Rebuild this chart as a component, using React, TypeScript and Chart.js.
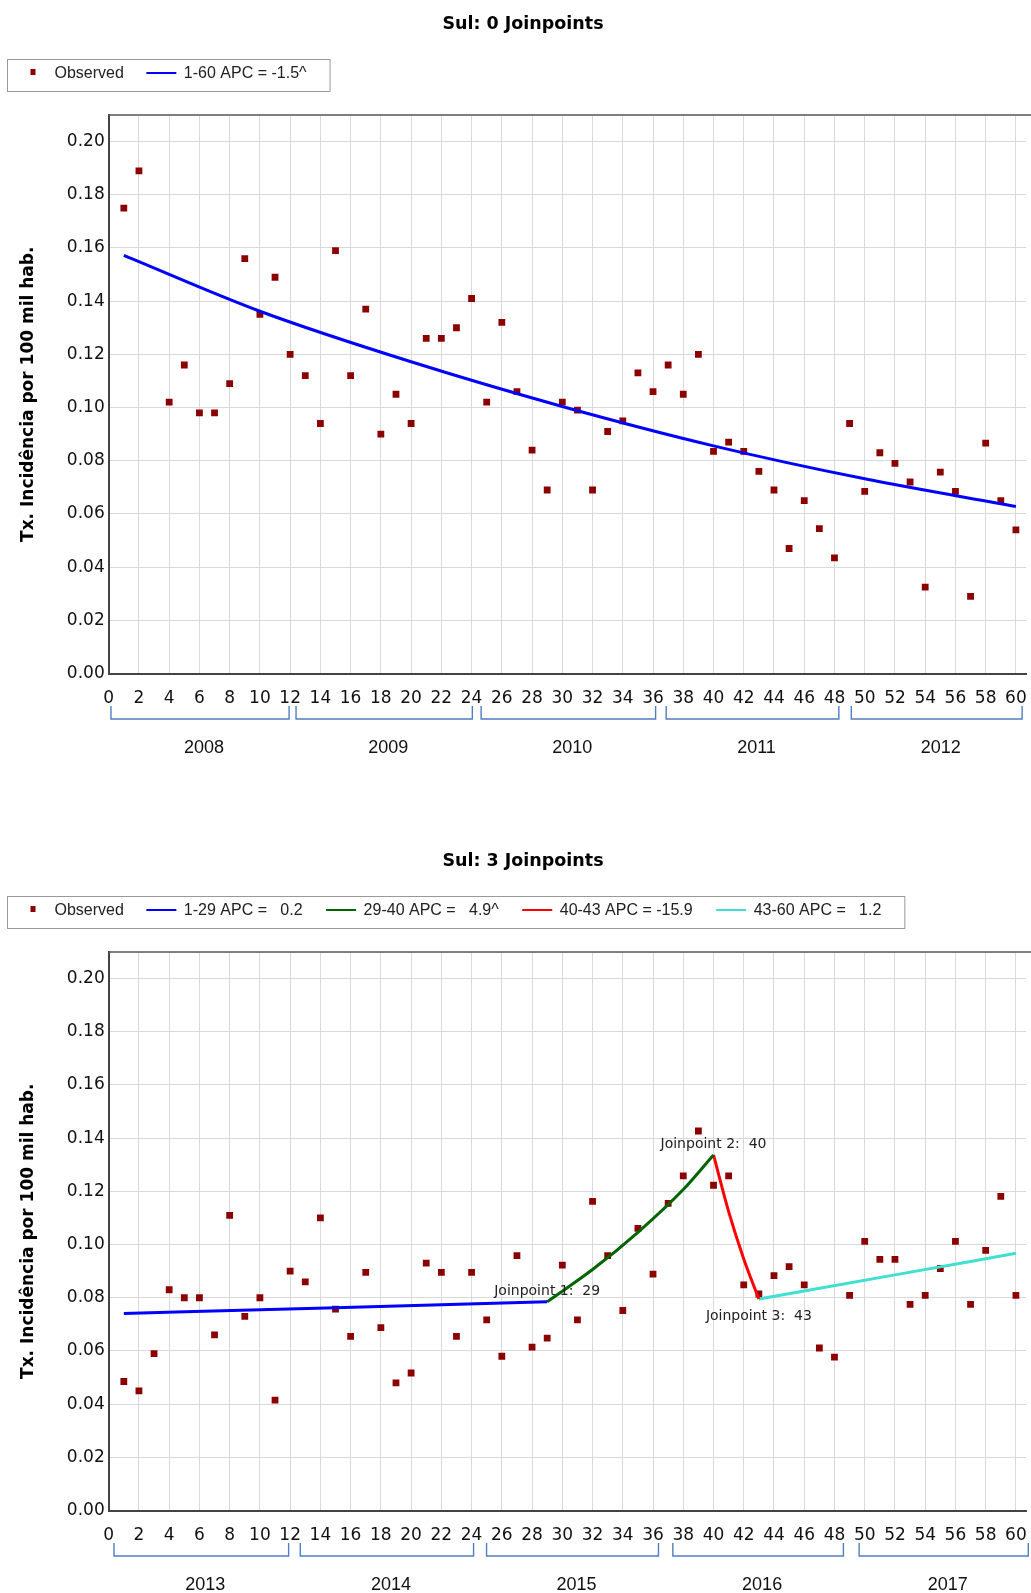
import React, { useEffect, useRef } from 'react';
import { Chart, registerables } from 'chart.js';

Chart.register(...registerables);

// ---------- DATA ----------
const months = [
  1, 2, 3, 4, 5, 6, 7, 8, 9, 10, 11, 12, 13, 14, 15, 16, 17, 18, 19, 20,
  21, 22, 23, 24, 25, 26, 27, 28, 29, 30, 31, 32, 33, 34, 35, 36, 37, 38, 39, 40,
  41, 42, 43, 44, 45, 46, 47, 48, 49, 50, 51, 52, 53, 54, 55, 56, 57, 58, 59, 60,
];

const observedTop = [
  0.175, 0.189, null, 0.102, 0.116, 0.098, 0.098, 0.109, 0.156, 0.135,
  0.149, 0.120, 0.112, 0.094, 0.159, 0.112, 0.137, 0.090, 0.105, 0.094,
  0.126, 0.126, 0.130, 0.141, 0.102, 0.132, 0.106, 0.084, 0.069, 0.102,
  0.099, 0.069, 0.091, 0.095, 0.113, 0.106, 0.116, 0.105, 0.120, 0.0835,
  0.087, 0.0835, 0.076, 0.069, 0.047, 0.065, 0.0545, 0.0435, 0.094, 0.0685,
  0.083, 0.079, 0.072, 0.0325, 0.0757, 0.0685, 0.029, 0.0866, 0.065, 0.054,
];

const observedBottom = [
  0.0485, 0.045, 0.059, 0.083, 0.080, 0.080, 0.066, 0.111, 0.073, 0.080,
  0.0415, 0.090, 0.086, 0.110, 0.0757, 0.0655, 0.0895, 0.0688, 0.048, 0.0517,
  0.093, 0.0895, 0.0655, 0.0895, 0.0717, 0.058, 0.0958, 0.0614, 0.0648, 0.0923,
  0.0717, 0.1162, 0.0958, 0.0752, 0.1061, 0.0889, 0.1155, 0.1258, 0.1427, 0.1223,
  0.1258, 0.0848, 0.0814, 0.0883, 0.0917, 0.0848, 0.0611, 0.0577, 0.0809, 0.1012,
  0.0944, 0.0944, 0.0775, 0.0809, 0.091, 0.1012, 0.0775, 0.0978, 0.1181, 0.0809,
];

// fitted model
const fitTopX = [1, 10, 20, 30, 40, 50, 60];
const fitTopY = [0.1572, 0.1362, 0.1172, 0.1004, 0.0856, 0.0732, 0.0628];

const fitSeg1X = [1, 15, 29];
const fitSeg1Y = [0.0741, 0.0762, 0.0785];
const fitSeg2X = [29, 32, 35, 38, 40];
const fitSeg2Y = [0.0785, 0.0906, 0.1046, 0.1207, 0.1337];
const fitSeg3X = [40, 41, 42, 43];
const fitSeg3Y = [0.1337, 0.1124, 0.0946, 0.0795];
const fitSeg4X = [43, 52, 60];
const fitSeg4Y = [0.0795, 0.0886, 0.0967];

const yearsTop = ['2008', '2009', '2010', '2011', '2012'];
const yearsBottom = ['2013', '2014', '2015', '2016', '2017'];

const joinpointMonths = [29, 40, 43];
const joinpointBelow = [false, false, true];

const yTicks = [0, 0.02, 0.04, 0.06, 0.08, 0.1, 0.12, 0.14, 0.16, 0.18, 0.2];

const Y_TITLE = 'Tx. Incidência por 100 mil hab.';

// ---------- STYLE ----------
const SANS = '"DejaVu Sans", Verdana, sans-serif';
const ARIAL = '"Liberation Sans", Arial, sans-serif';
const W = 1031;
const H = 837;

type Seg = { label: string; color: string; xs: number[]; ys: number[] };

interface PanelProps {
  title: string;
  observed: (number | null)[];
  segments: Seg[];
  years: string[];
  bStart: [number, number];
  bEnd: [number, number];
  joinpoints: number[];
  jpBelow: boolean[];
}

function Panel(props: PanelProps) {
  const ref = useRef<HTMLCanvasElement>(null);

  useEffect(() => {
    const canvas = ref.current!;
    const { title, observed, segments, years, bStart, bEnd, joinpoints, jpBelow } = props;

    const findY = (m: number) => {
      for (const s of segments) {
        const i = s.xs.indexOf(m);
        if (i >= 0) return s.ys[i];
      }
      return 0;
    };

    const decor = {
      id: 'decor',
      afterDraw(chart: any) {
        const ctx: CanvasRenderingContext2D = chart.ctx;
        const area = chart.chartArea;
        const xs = chart.scales.x;
        const ys = chart.scales.y;
        ctx.save();

        // top frame line
        ctx.strokeStyle = '#555';
        ctx.lineWidth = 1.5;
        ctx.beginPath();
        ctx.moveTo(area.left, area.top);
        ctx.lineTo(W, area.top);
        ctx.stroke();

        // title
        ctx.fillStyle = '#000';
        ctx.font = `bold 17.5px ${SANS}`;
        ctx.textAlign = 'center';
        ctx.textBaseline = 'middle';
        ctx.fillText(title, 523, 24);

        // y title
        ctx.font = `bold 17px ${SANS}`;
        ctx.save();
        ctx.translate(28.5, (area.top + area.bottom) / 2);
        ctx.rotate(-Math.PI / 2);
        ctx.fillText(Y_TITLE, 0, 0);
        ctx.restore();

        // legend
        ctx.font = `16px ${ARIAL}`;
        ctx.textAlign = 'left';
        ctx.textBaseline = 'middle';
        const ly = 74;
        ctx.fillStyle = '#8B0000';
        ctx.fillRect(30.5, ly - 5, 5, 6);
        ctx.fillStyle = '#222';
        ctx.fillText('Observed', 54.5, ly);
        let lx = 54.5 + ctx.measureText('Observed').width + 22.5;
        for (const s of segments) {
          ctx.strokeStyle = s.color;
          ctx.lineWidth = 2;
          ctx.beginPath();
          ctx.moveTo(lx, ly - 1);
          ctx.lineTo(lx + 30, ly - 1);
          ctx.stroke();
          ctx.fillStyle = '#222';
          ctx.fillText(s.label, lx + 37.5, ly);
          lx = lx + 37.5 + ctx.measureText(s.label).width + 23.5;
        }
        ctx.strokeStyle = '#999';
        ctx.lineWidth = 1;
        ctx.strokeRect(7.5, 59.5, lx - 7.5, 32);

        // year brackets
        ctx.strokeStyle = '#4F7FC0';
        ctx.lineWidth = 1.4;
        ctx.font = `18px ${ARIAL}`;
        ctx.textAlign = 'center';
        ctx.fillStyle = '#111';
        years.forEach((yr, i) => {
          const s = xs.getPixelForValue(bStart[0] + bStart[1] * i);
          const e = xs.getPixelForValue(bEnd[0] + bEnd[1] * i);
          const y1 = area.bottom + 32.5;
          const y2 = area.bottom + 45.5;
          ctx.beginPath();
          ctx.moveTo(s, y1);
          ctx.lineTo(s, y2);
          ctx.lineTo(e, y2);
          ctx.lineTo(e, y1);
          ctx.stroke();
          ctx.fillText(yr, (s + e) / 2 + 4, area.bottom + 75);
        });

        // joinpoint labels
        ctx.font = `14px ${SANS}`;
        ctx.fillStyle = '#222';
        ctx.textAlign = 'center';
        ctx.textBaseline = 'alphabetic';
        joinpoints.forEach((m, i) => {
          const px = xs.getPixelForValue(m);
          const py = ys.getPixelForValue(findY(m));
          const txt = `Joinpoint ${i + 1}:  ${m}`;
          ctx.fillText(txt, px, jpBelow[i] ? py + 20.5 : py - 7);
        });

        ctx.restore();
      },
    };

    const obsData = months
      .map((m, i) => ({ x: m, y: observed[i] }))
      .filter((p) => p.y !== null);

    const datasets: any[] = [
      {
        label: 'Observed',
        data: obsData,
        pointStyle: 'rect',
        pointRadius: 4.8,
        pointHoverRadius: 4.8,
        backgroundColor: '#8B0000',
        borderColor: '#8B0000',
        borderWidth: 0,
        showLine: false,
        order: 2,
      },
      ...segments.map((s) => ({
        label: s.label,
        data: s.xs.map((x, i) => ({ x, y: s.ys[i] })),
        showLine: true,
        borderColor: s.color,
        backgroundColor: s.color,
        borderWidth: 3,
        pointRadius: 0,
        pointHoverRadius: 0,
        cubicInterpolationMode: 'monotone',
        fill: false,
        order: 1,
      })),
    ];

    const chart = new Chart(canvas, {
      type: 'scatter',
      data: { datasets },
      options: {
        animation: false,
        responsive: false,
        devicePixelRatio: 1,
        events: [],
        layout: { padding: { top: 115, left: 0, right: 0, bottom: H - 673.5 - 40 } },
        plugins: {
          legend: { display: false },
          title: { display: false },
          tooltip: { enabled: false },
        },
        scales: {
          x: {
            type: 'linear',
            min: 0,
            max: 60.68,
            ticks: {
              stepSize: 2,
              includeBounds: false,
              autoSkip: false,
              maxRotation: 0,
              minRotation: 0,
              padding: 15,
              color: '#111',
              font: { family: SANS, size: 17 },
            },
            grid: { color: '#d9d9d9', lineWidth: 1, drawTicks: false },
            border: { color: '#444', width: 2 },
            afterFit: (s: any) => {
              s.height = 40;
              s.paddingLeft = 0;
              s.paddingRight = 0;
            },
          },
          y: {
            type: 'linear',
            min: 0,
            max: 0.21,
            afterBuildTicks: (s: any) => {
              s.ticks = yTicks.map((v) => ({ value: v }));
            },
            ticks: {
              padding: 4,
              color: '#111',
              font: { family: SANS, size: 17 },
              callback: (v: any) => Number(v).toFixed(2),
            },
            grid: { color: '#d9d9d9', lineWidth: 1, drawTicks: false },
            border: { color: '#444', width: 2 },
            afterFit: (s: any) => {
              s.width = 108.7;
              s.paddingTop = 0;
              s.paddingBottom = 0;
            },
          },
        },
      },
      plugins: [decor],
    } as any);

    return () => chart.destroy();
  }, []);

  return (
    <canvas
      ref={ref}
      width={W}
      height={H}
      style={{ display: 'block', width: W, height: H }}
    />
  );
}

export default function App() {
  const segTop: Seg[] = [
    { label: '1-60 APC = -1.5^', color: '#0000FF', xs: fitTopX, ys: fitTopY },
  ];
  const segBottom: Seg[] = [
    { label: '1-29 APC =   0.2', color: '#0000FF', xs: fitSeg1X, ys: fitSeg1Y },
    { label: '29-40 APC =   4.9^', color: '#006400', xs: fitSeg2X, ys: fitSeg2Y },
    { label: '40-43 APC = -15.9', color: '#FF0000', xs: fitSeg3X, ys: fitSeg3Y },
    { label: '43-60 APC =   1.2', color: '#40E0D0', xs: fitSeg4X, ys: fitSeg4Y },
  ];
  return (
    <div
      style={{
        position: 'absolute',
        left: 0,
        top: 0,
        width: W,
        height: 1593,
        overflow: 'hidden',
        background: '#fff',
      }}
    >
      <Panel
        title="Sul: 0 Joinpoints"
        observed={observedTop}
        segments={segTop}
        years={yearsTop}
        bStart={[0.15, 12.24]}
        bEnd={[11.93, 12.12]}
        joinpoints={[]}
        jpBelow={[]}
      />
      <Panel
        title="Sul: 3 Joinpoints"
        observed={observedBottom}
        segments={segBottom}
        years={yearsBottom}
        bStart={[0.35, 12.32]}
        bEnd={[11.9, 12.23]}
        joinpoints={joinpointMonths}
        jpBelow={joinpointBelow}
      />
    </div>
  );
}
